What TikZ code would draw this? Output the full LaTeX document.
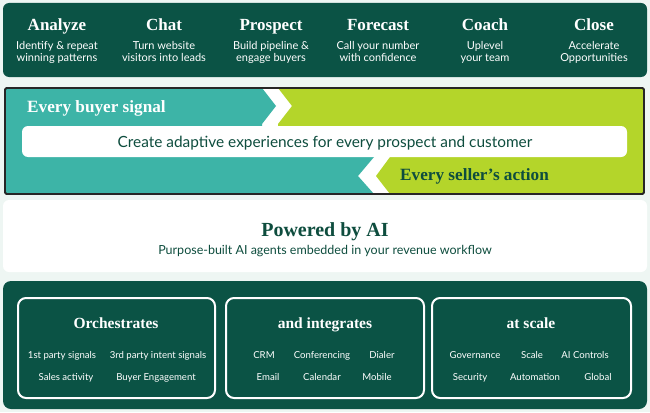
\documentclass[tikz,border=0pt]{standalone}
\usepackage{fontspec}
\setmainfont{Lato}
\newfontfamily\slab{Liberation Serif}
\definecolor{dkgreen}{HTML}{0B5345}
\definecolor{bgmint}{HTML}{EEF6F3}
\definecolor{cteal}{HTML}{3DB4A7}
\definecolor{clime}{HTML}{B4D52A}
\definecolor{txtgreen}{HTML}{0E4D3E}
\tikzset{
  ttl/.style={font=\slab\bfseries\fontsize{17}{19}\selectfont, text=white, inner sep=0pt, anchor=base},
  btl/.style={font=\slab\bfseries\fontsize{15.5}{18}\selectfont, text=white, inner sep=0pt, anchor=base},
  desc/.style={font=\fontsize{11}{13}\selectfont, text=white, align=center, inner sep=0pt, anchor=base},
  subttl/.style={font=\slab\bfseries\fontsize{17.2}{20}\selectfont, text=white, inner sep=0pt, anchor=base west},
  item/.style={font=\fontsize{9.6}{12}\selectfont, text=white, inner sep=0pt, anchor=base},
  innerbox/.style={draw=white, line width=2pt, rounded corners=8pt},
}
\begin{document}
\begin{tikzpicture}[x=1pt,y=-1pt]
\useasboundingbox (0,0) rectangle (650,412);
\fill[bgmint] (0,0) rectangle (650,412);
% top panel
\fill[dkgreen, rounded corners=6pt] (3,3) rectangle (647,77);
\foreach \x/\t/\d [count=\i] in {57/Analyze/{Identify \& repeat\\winning patterns},
  164/Chat/{Turn website\\visitors into leads},
  271/Prospect/{Build pipeline \&\\engage buyers},
  378/Forecast/{Call your number\\with confidence},
  485/Coach/{Uplevel\\your team},
  594/Close/{Accelerate\\Opportunities}}{
  \node[ttl] (t\i) at (\x,31) {\t};
  \node[desc] (d\i) at (\x,62) {\d};
}
% middle band
\fill[white] (5,88) rectangle (644,194);
\fill[cteal] (5,88) -- (262,88) -- (276,106) -- (262,124) -- (262,140) -- (374,140) -- (374,157) -- (358,176) -- (374,194) -- (5,194) -- cycle;
\fill[clime] (278,88) -- (644,88) -- (644,194) -- (390,194) -- (376,176) -- (390,157) -- (390,140) -- (278,140) -- (278,124) -- (292,106) -- cycle;
\draw[black!85, line width=1.8pt, rounded corners=1.5pt] (5,88) rectangle (644,194);
\fill[white, rounded corners=6pt] (22,126) rectangle (627,157);
\node[subttl] (buyer) at (27,112.5) {Every buyer signal};
\node[subttl, text=txtgreen] (seller) at (400,180.5) {Every seller’s action};
\node[font=\fontsize{15.4}{18}\selectfont, text=txtgreen, inner sep=0pt, anchor=base] (create) at (325,147) {Create adaptive experiences for every prospect and customer};
% powered by AI
\fill[white, rounded corners=6pt] (3,200) rectangle (647,272);
\node[font=\slab\bfseries\fontsize{20}{22}\selectfont, text=txtgreen, inner sep=0pt, anchor=base] (pw) at (325,236.5) {Powered by AI};
\node[font=\fontsize{12.5}{15}\selectfont, text=txtgreen, inner sep=0pt, anchor=base] (pws) at (325,254) {Purpose-built AI agents embedded in your revenue workflow};
% bottom panel
\fill[dkgreen, rounded corners=8pt] (3,281) rectangle (647,409);
\draw[innerbox] (18,298) rectangle (215,398);
\draw[innerbox] (226,298) rectangle (424,398);
\draw[innerbox] (432,298) rectangle (631,398);
\node[btl] (o) at (116,328) {Orchestrates};
\node[btl] (ai) at (325,328) {and integrates};
\node[btl] (as) at (531,328) {at scale};
\node[item] (o1) at (62,358.5) {1st party signals};
\node[item] (o2) at (158,358.5) {3rd party intent signals};
\node[item] (o3) at (66,380.5) {Sales activity};
\node[item] (o4) at (156,380.5) {Buyer Engagement};
\node[item] (i1) at (264,358.5) {CRM};
\node[item] (i2) at (322,358.5) {Conferencing};
\node[item] (i3) at (382,358.5) {Dialer};
\node[item] (i4) at (268,380.5) {Email};
\node[item] (i5) at (322,380.5) {Calendar};
\node[item] (i6) at (377,380.5) {Mobile};
\node[item] (s1) at (475,358.5) {Governance};
\node[item] (s2) at (532,358.5) {Scale};
\node[item] (s3) at (585,358.5) {AI Controls};
\node[item] (s4) at (470,380.5) {Security};
\node[item] (s5) at (535,380.5) {Automation};
\node[item] (s6) at (598,380.5) {Global};
\end{tikzpicture}
\end{document}
